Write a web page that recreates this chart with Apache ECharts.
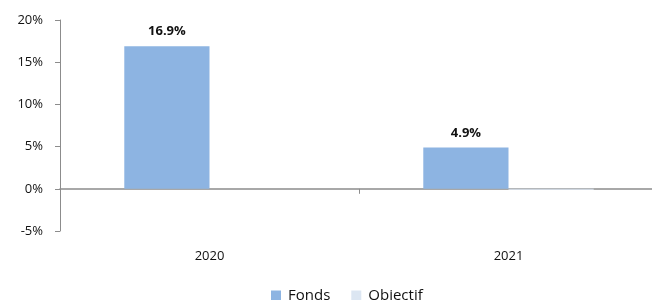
<!DOCTYPE html>
<html><head><meta charset="utf-8">
<script src="https://cdn.jsdelivr.net/npm/echarts@6/dist/echarts.min.js"></script>
<style>html,body{margin:0;padding:0;background:#fff}#c{width:652px;height:300px}</style>
</head><body><div id="c"></div>
<script>
var categories = ['2020', '2021'];
var fonds = [16.9, 4.9];
var objectif = [null, -0.1];
var yTicks = { min: -5, max: 20, interval: 5 };

var chart = echarts.init(document.getElementById('c'), null, {renderer: 'canvas'});
var font = 'Open Sans';
chart.setOption({
  animation: false,
  grid: { left: 60, top: 20, width: 598, height: 211, containLabel: false, outerBoundsMode: 'none' },
  legend: {
    left: 266, top: 283, itemWidth: 10, itemHeight: 10, itemGap: 21, icon: 'rect',
    textStyle: { fontFamily: font, fontSize: 15, color: '#111', padding: [0,0,0,2] },
    data: ['Fonds', 'Objectif']
  },
  xAxis: {
    type: 'category', data: categories,
    axisLine: { onZero: true, lineStyle: { color: '#8c8c8c', width: 1.5 } },
    axisTick: { show: true, length: 5, inside: false, lineStyle: { color: '#8c8c8c' } },
    axisLabel: { margin: 19, fontFamily: font, fontSize: 13, color: '#111' }
  },
  yAxis: {
    type: 'value', min: yTicks.min, max: yTicks.max, interval: yTicks.interval,
    splitLine: { show: false },
    axisLine: { show: true, lineStyle: { color: '#8c8c8c' } },
    axisTick: { show: true, length: 5, lineStyle: { color: '#8c8c8c' } },
    axisLabel: { formatter: '{value}%', margin: 17, fontFamily: font, fontSize: 13, color: '#111' }
  },
  series: [
    { name: 'Fonds', type: 'bar', data: fonds, barGap: '0%', barCategoryGap: '43%',
      itemStyle: { color: '#8db4e2' },
      label: { show: true, position: 'top', distance: 8, formatter: function(p){return p.value.toFixed(1)+'%';},
        fontFamily: font, fontWeight: 'bold', fontSize: 13, color: '#111' } },
    { name: 'Objectif', type: 'bar', data: objectif, barGap: '0%', barCategoryGap: '43%',
      itemStyle: { color: '#dce6f2' } }
  ]
});
</script></body></html>
